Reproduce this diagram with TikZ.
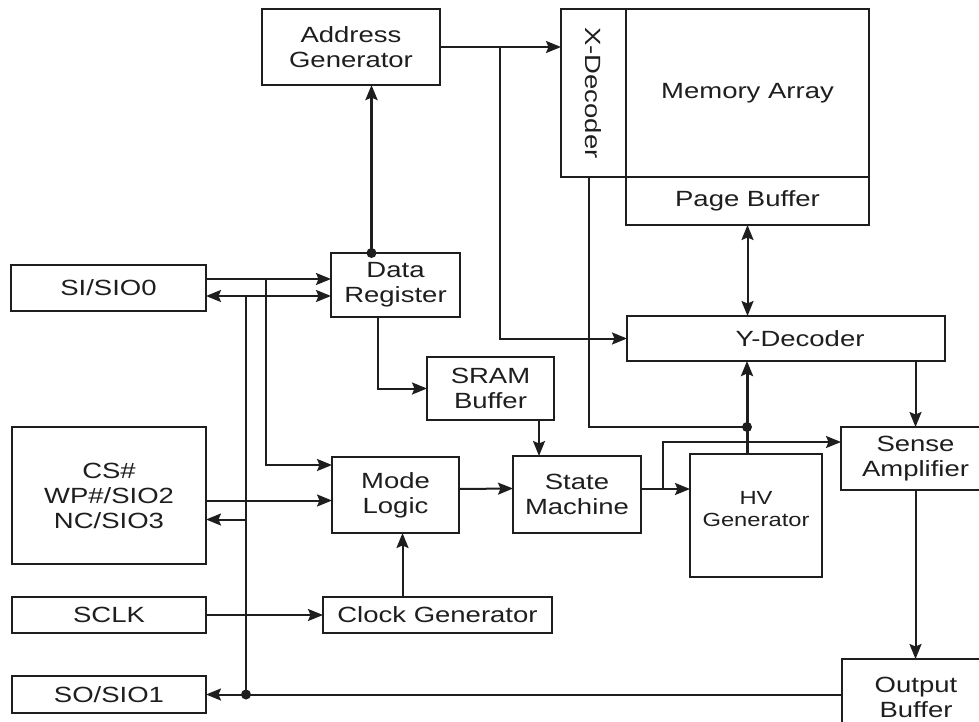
\documentclass[tikz,border=0pt]{standalone}
\usepackage{fontspec}
\setmainfont{Liberation Sans}[FakeStretch=1.25]
\usepackage{tikz}
\usetikzlibrary{arrows.meta, positioning}
\definecolor{inkgray}{RGB}{30,30,30}
\tikzset{
  basebox/.style={
    rectangle, draw=inkgray, line width=2.2pt, align=center, text=inkgray,
    inner sep=0pt, outer sep=0pt, font=\fontsize{22}{25}\selectfont
  },
  pinbox/.style={basebox, minimum width=194, minimum height=36},
  blockbox/.style={basebox, minimum width=127, minimum height=64},
  arraybox/.style={basebox, minimum width=243},
  wire/.style={line width=2pt, color=inkgray},
  arrow/.style={wire, -{Stealth[length=15pt, width=12pt, inset=2.5pt]}},
  dblarrow/.style={wire, {Stealth[length=15pt, width=12pt, inset=2.5pt]}-{Stealth[length=15pt, width=12pt, inset=2.5pt]}},
  thickarrow/.style={arrow, line width=3pt},
  joint/.style={fill=inkgray}
}

\begin{document}
\begin{tikzpicture}[x=1pt, y=-1pt, node distance=0pt]
  \clip (0,0) rectangle (979,722);

  % pins
  \node[pinbox, minimum width=195, minimum height=46] (si) at (108.5,288) {SI/SIO0};
  \node[pinbox, minimum height=137] (cs) at (109,495.5) {CS\#\\WP\#/SIO2\\NC/SIO3};
  \node[pinbox] (sclk) at (109,615) {SCLK};
  \node[pinbox, minimum height=37] (so) at (109,694.5) {SO/SIO1};

  % logic
  \node[blockbox, minimum width=129] (dreg) at (395.5,285) {Data\\Register};
  \node[blockbox, minimum width=178, minimum height=76] (addr) at (351,47) {Address\\Generator};
  \node[blockbox, minimum height=63] (sram) at (490.5,388.5) {SRAM\\Buffer};
  \node[blockbox, minimum height=76] (mode) at (395.5,495) {Mode\\Logic};
  \node[blockbox, minimum width=128, minimum height=77] (state) at (577,494.5) {State\\Machine};
  \node[blockbox, minimum width=229, minimum height=36] (clk) at (437.5,615) {Clock Generator};
  \node[blockbox, minimum width=132, minimum height=123, font=\fontsize{19}{22}\selectfont] (hv) at (756,515.5) {HV\\Generator\\[-8pt]};

  % memory side
  \node[arraybox, minimum height=168] (mem) at (747.5,93) {Memory Array};
  \node[arraybox, minimum height=48, below=of mem] (page) {Page Buffer};
  \node[basebox, minimum width=65, minimum height=168, left=of mem] (xdec) {\rotatebox{-90}{X-Decoder}};
  \node[basebox, minimum width=318, minimum height=45] (ydec) at (786,338.5) {\hspace*{28pt}Y-Decoder};
  \node[blockbox, minimum width=149, minimum height=63] (sense) at (915.5,458.5) {Sense\\Amplifier};
  \node[blockbox, minimum width=148, minimum height=76] (out) at (916,697) {Output\\Buffer};

  \coordinate (sitop) at ([yshift=9pt]si.east);
  \coordinate (sibot) at ([yshift=-8pt]si.east);
  \coordinate (bus) at ([xshift=40pt]sibot);
  \coordinate (csout) at ([yshift=-24pt]cs.east);
  \coordinate (csin) at ([yshift=-5pt]cs.east);
  \coordinate (adrtap) at ([xshift=-24pt]dreg.north);
  \coordinate (xdout) at ([xshift=-5pt]xdec.south);
  \coordinate (hvout) at ([xshift=-9pt]hv.north);

  \draw[arrow] (sitop) -- (sitop -| dreg.west);
  \draw[arrow] (sitop) -- ++(60,0) |- ([yshift=30pt]mode.west);
  \draw[dblarrow] (sibot) -- (sibot -| dreg.west);
  \draw[wire] (bus) -- (bus |- so.east);
  \draw[arrow] (bus |- csout) -- (csout);
  \draw[arrow] (csin) -- (csin -| mode.west);
  \draw[arrow] (sclk) -- (clk);
  \draw[arrow] ([xshift=-35pt]clk.north) -- ++(0,-64);
  \draw[arrow] (so.east -| out.west) -- (so.east);
  \fill[joint] (bus |- so.east) circle (5);

  \draw[thickarrow] (adrtap) -- (adrtap |- addr.south);
  \fill[joint] (adrtap) circle (5);
  \draw[arrow] (addr.east) -- (addr.east -| xdec.west);
  \draw[arrow] (addr.east) ++(60,0) |- (ydec.west);
  \draw[arrow] ([xshift=-17.5pt]dreg.south) |- (sram.west);
  \draw[arrow] ([xshift=-38pt]state.north) ++(0,-36) -- ([xshift=-38pt]state.north);
  \draw[arrow] ([yshift=6pt]mode.east) -- ([yshift=6pt]state.west);
  \draw[arrow] ([yshift=5.5pt]state.east) -- ([yshift=26.5pt]hv.west);
  \draw[arrow] ([yshift=5.5pt]state.east) ++(22,0) |- ([yshift=16.5pt]sense.west);

  \draw[wire] (xdout) |- (hvout |- sense.north);
  \draw[thickarrow] (hvout) -- (hvout |- ydec.south);
  \fill[joint] (hvout |- sense.north) circle (5);
  \draw[dblarrow] (page.south) -- (page.south |- ydec.north);
  \draw[arrow] (sense.north |- ydec.south) -- (sense.north);
  \draw[arrow] (sense.south) -- (sense.south |- out.north);
\end{tikzpicture}
\end{document}
